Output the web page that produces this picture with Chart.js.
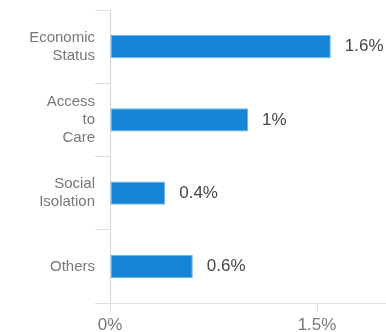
<!DOCTYPE html>
<html>
<head>
<meta charset="utf-8">
<script src="https://cdn.jsdelivr.net/npm/chart.js@4"></script>
<style>
  html, body { margin: 0; padding: 0; background: #fff; }
  #wrap { width: 386px; height: 332px; position: relative; }
</style>
</head>
<body>
<div id="wrap"><canvas id="bar-chart"></canvas></div>
<script>
// categories (multi-line labels) and their shares in percent
var categories = [["Economic", "Status"], ["Access", "to", "Care"], ["Social", "Isolation"], "Others"];
var shares = [1.6, 1, 0.4, 0.6];
var xTicks = [0, 1.5];

var FONT = "'Liberation Sans', Arial, sans-serif";

// writes the value next to the end of each bar
var valueLabels = {
  id: 'valueLabels',
  afterDatasetsDraw: function(chart) {
    var ctx = chart.ctx;
    var meta = chart.getDatasetMeta(0);
    ctx.save();
    ctx.font = "17px " + FONT;
    ctx.fillStyle = "#444";
    ctx.textAlign = "left";
    ctx.textBaseline = "middle";
    meta.data.forEach(function(bar, i) {
      ctx.fillText(shares[i] + "%", bar.x + 14, bar.y);
    });
    ctx.restore();
  }
};

new Chart(document.getElementById("bar-chart"), {
  type: 'bar',
  data: {
    labels: categories,
    datasets: [{
      data: shares,
      backgroundColor: "#1684d6",
      borderColor: "#6db4ea",
      borderWidth: 1,
      borderSkipped: false,
      barPercentage: 0.32,
      categoryPercentage: 1
    }]
  },
  options: {
    indexAxis: 'y',
    responsive: true,
    maintainAspectRatio: false,
    animation: false,
    layout: { padding: { top: 10, left: 0, right: 0, bottom: 0 } },
    plugins: {
      legend: { display: false },
      tooltip: { enabled: false }
    },
    scales: {
      x: {
        min: 0,
        max: 2,
        afterBuildTicks: function(scale) {
          scale.ticks = xTicks.map(function(v) { return { value: v }; });
        },
        afterFit: function(scale) { scale.height = 29; },
        grid: { drawOnChartArea: false, tickLength: 9, color: "#ddd" },
        border: { color: "#e2e2e2" },
        ticks: {
          padding: 3,
          color: "#777",
          font: { family: FONT, size: 17 },
          callback: function(v) { return v + "%"; }
        }
      },
      y: {
        afterFit: function(scale) { scale.width = 110; },
        grid: { offset: true, drawOnChartArea: false, tickLength: 15, color: "#ddd" },
        border: { color: "#d6d6d6" },
        ticks: {
          padding: 0,
          color: "#777",
          font: { family: FONT, size: 15, lineHeight: 1.2 }
        }
      }
    }
  },
  plugins: [valueLabels]
});
</script>
</body>
</html>
